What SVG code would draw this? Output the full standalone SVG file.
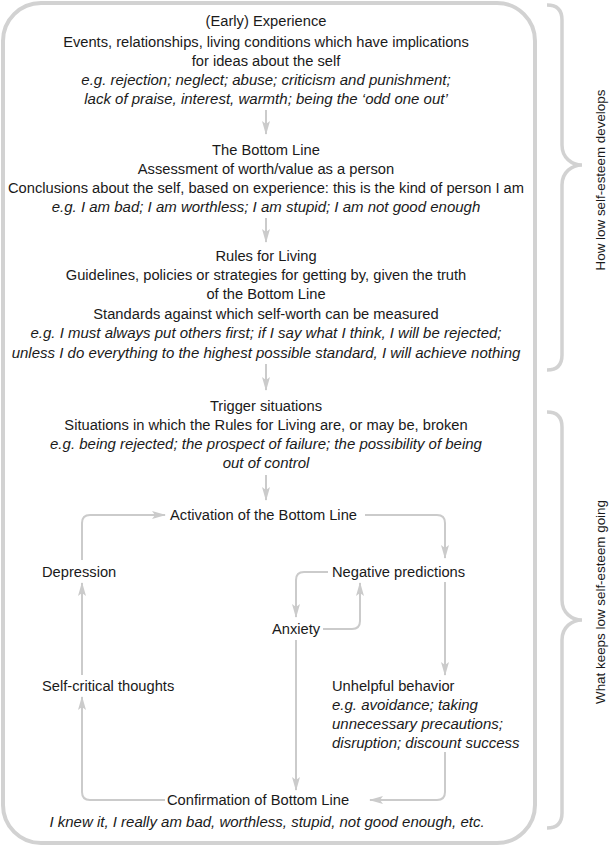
<svg xmlns="http://www.w3.org/2000/svg" width="611" height="846" viewBox="0 0 611 846">
<style>
text{font-family:"Liberation Sans",Arial,sans-serif;font-size:14.7px;fill:#1a1a1a}
.c{text-anchor:middle}
.i{font-style:italic;font-size:15px}
.frame{fill:none;stroke:#d2d2d2;stroke-width:4}
.brace{fill:none;stroke:#d2d2d2;stroke-width:3.5}
.con{fill:none;stroke:#cbcbcb;stroke-width:2;marker-end:url(#ah)}
.side{font-size:13.4px}
</style>
<defs>
<marker id="ah" viewBox="0 0 14 8" refX="13" refY="4" markerWidth="14" markerHeight="8" markerUnits="userSpaceOnUse" orient="auto">
<path d="M0,0 L14,4 L0,8 L3,4 Z" fill="#cbcbcb"/>
</marker>
</defs>
<rect class="frame" x="3" y="3" width="532" height="840" rx="38" ry="38"/>
<path class="brace" d="M547,5 Q562,5 562,20 L562,145 C562,158 572,165 582,165 C572,165 562,172 562,185 L562,355 Q562,370 547,370"/>
<path class="brace" d="M547,412 Q562,412 562,427 L562,600 C562,613 572,620 582,620 C572,620 562,627 562,640 L562,813 Q562,828 547,828"/>
<text class="side c" transform="translate(605,180) rotate(-90)">How low self-esteem develops</text>
<text class="side c" transform="translate(605,602) rotate(-90)">What keeps low self-esteem going</text>
<g id="connectors">
<path class="con" d="M266,110 V134"/>
<path class="con" d="M266,218 V242"/>
<path class="con" d="M266,364 V390"/>
<path class="con" d="M266,475 V500"/>
<path class="con" d="M365,515 H437 Q445,515 445,523 V558"/>
<path class="con" d="M445,582 V675"/>
<path class="con" d="M328,572 H304 Q296,572 296,580 V617"/>
<path class="con" d="M323,629 H352 Q360,629 360,621 V583"/>
<path class="con" d="M296,640 V790"/>
<path class="con" d="M445,752 V792 Q445,800 437,800 H370"/>
<path class="con" d="M165,800 H90 Q82,800 82,792 V697"/>
<path class="con" d="M82,675 V583"/>
<path class="con" d="M82,560 V523 Q82,515 90,515 H165"/>
</g>
<g id="early-experience">
<text class="c" x="266" y="26">(Early) Experience</text>
<text class="c" x="266" y="47">Events, relationships, living conditions which have implications</text>
<text class="c" x="266" y="66">for ideas about the self</text>
<text class="c i" x="266" y="85">e.g. rejection; neglect; abuse; criticism and punishment;</text>
<text class="c i" x="266" y="104">lack of praise, interest, warmth; being the ‘odd one out’</text>
</g>
<g id="bottom-line">
<text class="c" x="266" y="155">The Bottom Line</text>
<text class="c" x="266" y="174">Assessment of worth/value as a person</text>
<text class="c" x="266" y="193">Conclusions about the self, based on experience: this is the kind of person I am</text>
<text class="c i" x="266" y="212">e.g. I am bad; I am worthless; I am stupid; I am not good enough</text>
</g>
<g id="rules-for-living">
<text class="c" x="266" y="261">Rules for Living</text>
<text class="c" x="266" y="280">Guidelines, policies or strategies for getting by, given the truth</text>
<text class="c" x="266" y="299">of the Bottom Line</text>
<text class="c" x="266" y="319">Standards against which self-worth can be measured</text>
<text class="c i" x="266" y="338">e.g. I must always put others first; if I say what I think, I will be rejected;</text>
<text class="c i" x="266" y="358">unless I do everything to the highest possible standard, I will achieve nothing</text>
</g>
<g id="trigger-situations">
<text class="c" x="266" y="411">Trigger situations</text>
<text class="c" x="266" y="430">Situations in which the Rules for Living are, or may be, broken</text>
<text class="c i" x="266" y="449">e.g. being rejected; the prospect of failure; the possibility of being</text>
<text class="c i" x="266" y="468">out of control</text>
</g>
<g id="activation">
<text x="170" y="520">Activation of the Bottom Line</text>
</g>
<g id="depression">
<text x="42" y="577">Depression</text>
</g>
<g id="negative-predictions">
<text x="332" y="577">Negative predictions</text>
</g>
<g id="anxiety">
<text x="272" y="634">Anxiety</text>
</g>
<g id="self-critical">
<text x="42" y="691">Self-critical thoughts</text>
</g>
<g id="unhelpful-behavior">
<text x="332" y="691">Unhelpful behavior</text>
<text class="i" x="332" y="710">e.g. avoidance; taking</text>
<text class="i" x="332" y="729">unnecessary precautions;</text>
<text class="i" x="332" y="748">disruption; discount success</text>
</g>
<g id="confirmation">
<text x="167" y="805">Confirmation of Bottom Line</text>
<text class="c i" x="267" y="827">I knew it, I really am bad, worthless, stupid, not good enough, etc.</text>
</g>
</svg>
